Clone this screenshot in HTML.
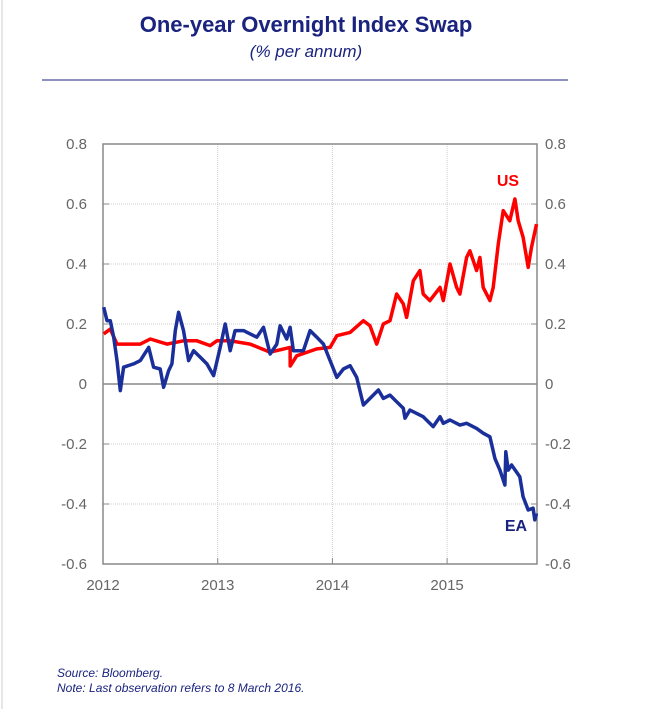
<!DOCTYPE html>
<html><head><meta charset="utf-8"><style>
body{margin:0;background:#fff;width:649px;height:709px;overflow:hidden;font-family:"Liberation Sans",sans-serif;}
svg{position:absolute;left:0;top:0}
</style></head><body>
<svg width="649" height="709">
<line x1="2" y1="0" x2="2" y2="709" stroke="#ccc" stroke-width="1"/>
<text x="306" y="32" text-anchor="middle" font-size="22" font-weight="bold" fill="#1a237e">One-year Overnight Index Swap</text>
<text x="306" y="57" text-anchor="middle" font-size="17" font-style="italic" fill="#1a237e">(% per annum)</text>
<line x1="42" y1="80" x2="568" y2="80" stroke="#1a237e" stroke-width="1"/>
<g id="grid"></g>
<g id="axes"></g>
<g id="series"></g>
<text x="508" y="186" text-anchor="middle" font-size="16" font-weight="bold" fill="#f00">US</text>
<text x="516" y="531" text-anchor="middle" font-size="16" font-weight="bold" fill="#1a237e">EA</text>
<text x="57" y="677" font-size="12" font-style="italic" fill="#1a237e">Source:  Bloomberg.</text>
<text x="57" y="692" font-size="12" font-style="italic" fill="#1a237e">Note: Last observation refers to 8 March 2016.</text>
</svg>
<script>
const yTicks=[0.8,0.6,0.4,0.2,0,-0.2,-0.4,-0.6];
const yTickLabels=["0.8","0.6","0.4","0.2","0","-0.2","-0.4","-0.6"];
const xTicks=[2012,2013,2014,2015];
const xTickLabels=["2012","2013","2014","2015"];
const usDates=[0.006,0.064,0.122,0.238,0.325,0.412,0.557,0.702,0.819,0.935,0.993,1.109,1.283,1.457,1.631,1.632,1.689,1.864,1.98,2.038,2.154,2.27,2.328,2.386,2.444,2.502,2.56,2.618,2.647,2.705,2.763,2.792,2.85,2.938,2.967,3.025,3.083,3.112,3.17,3.199,3.257,3.286,3.315,3.373,3.402,3.446,3.489,3.547,3.591,3.62,3.663,3.707,3.736,3.779];
const usValues=[0.167,0.183,0.133,0.133,0.133,0.15,0.133,0.144,0.144,0.128,0.144,0.144,0.133,0.106,0.122,0.06,0.094,0.117,0.122,0.161,0.172,0.211,0.194,0.133,0.2,0.211,0.3,0.267,0.222,0.344,0.378,0.3,0.278,0.322,0.278,0.4,0.322,0.3,0.422,0.444,0.378,0.422,0.322,0.278,0.322,0.467,0.578,0.544,0.617,0.544,0.489,0.389,0.456,0.533];
const eaDates=[0.006,0.035,0.064,0.093,0.122,0.151,0.18,0.267,0.325,0.398,0.441,0.499,0.528,0.572,0.601,0.63,0.659,0.702,0.746,0.79,0.848,0.906,0.964,1.022,1.065,1.109,1.152,1.225,1.283,1.341,1.399,1.457,1.515,1.544,1.602,1.631,1.66,1.747,1.806,1.864,1.922,1.98,2.038,2.096,2.154,2.212,2.27,2.328,2.401,2.444,2.502,2.56,2.618,2.633,2.676,2.792,2.879,2.938,2.967,3.025,3.112,3.17,3.257,3.315,3.373,3.417,3.46,3.504,3.512,3.533,3.562,3.634,3.663,3.707,3.75,3.765,3.779];
const eaValues=[0.256,0.211,0.211,0.156,0.078,-0.022,0.056,0.067,0.078,0.122,0.056,0.05,-0.011,0.044,0.067,0.178,0.239,0.178,0.078,0.111,0.089,0.067,0.028,0.122,0.2,0.111,0.178,0.178,0.167,0.156,0.189,0.1,0.133,0.194,0.15,0.189,0.111,0.111,0.178,0.156,0.133,0.078,0.022,0.05,0.061,0.022,-0.07,-0.048,-0.02,-0.048,-0.037,-0.059,-0.081,-0.114,-0.087,-0.109,-0.142,-0.109,-0.131,-0.12,-0.137,-0.131,-0.148,-0.164,-0.176,-0.248,-0.287,-0.337,-0.226,-0.287,-0.27,-0.309,-0.376,-0.42,-0.414,-0.453,-0.431];
const NS="http://www.w3.org/2000/svg";
const L=103,R=537,T=144,B=564;
const x=t=>L+(t-2012)*114.7;
const y=v=>T+(0.8-v)/1.4*(B-T);
function mk(tag,attrs,parent,txt){const e=document.createElementNS(NS,tag);for(const k in attrs)e.setAttribute(k,attrs[k]);if(txt!==undefined)e.textContent=txt;parent.appendChild(e);return e;}
const grid=document.getElementById('grid'),axes=document.getElementById('axes'),ser=document.getElementById('series');
yTicks.forEach((v,i)=>{
  if(v!==0&&i>0&&i<yTicks.length-1){const g=mk('line',{x1:L,x2:R,y1:y(v),y2:y(v),stroke:'#ccc','stroke-dasharray':'1,1'},grid);
  
  }
  const t1=mk('line',{x1:L,x2:L+6,y1:y(v),y2:y(v),stroke:'#888'},axes);
  const t2=mk('line',{x1:R-6,x2:R,y1:y(v),y2:y(v),stroke:'#888'},axes);
  const a=mk('text',{x:87,y:y(v)+5,'text-anchor':'end','font-size':15,fill:'#666'},axes,yTickLabels[i]);
  
  
  const b=mk('text',{x:545,y:y(v)+5,'font-size':15,fill:'#666'},axes,yTickLabels[i]);
  
  
});
xTicks.forEach((t,i)=>{
  if(i>0){const g=mk('line',{x1:x(t),x2:x(t),y1:T,y2:B,stroke:'#ccc','stroke-dasharray':'1,1'},grid);
  
  }
  mk('line',{x1:x(t),x2:x(t),y1:B-6,y2:B,stroke:'#888'},axes);
  const a=mk('text',{x:x(t),y:B+26,'text-anchor':'middle','font-size':15,fill:'#666'},axes,xTickLabels[i]);
  
  
});
const z=mk('line',{x1:L,x2:R,y1:y(0),y2:y(0),stroke:'#888','stroke-width':1.5},axes);


const fr=mk('rect',{x:L,y:T,width:R-L,height:B-T,fill:'none',stroke:'#888','stroke-width':1.5},axes);


function line(d,v,c){return d.map((t,i)=>(i?'L':'M')+x(2012+t).toFixed(1)+','+y(v[i]).toFixed(1)).join('');}
const us=mk('path',{d:line(usDates,usValues),fill:'none',stroke:'#f00','stroke-width':3.5,'stroke-linejoin':'round'},ser);


const ea=mk('path',{d:line(eaDates,eaValues),fill:'none',stroke:'#1a2f9a','stroke-width':3.5,'stroke-linejoin':'round'},ser);


</script>
</body></html>
